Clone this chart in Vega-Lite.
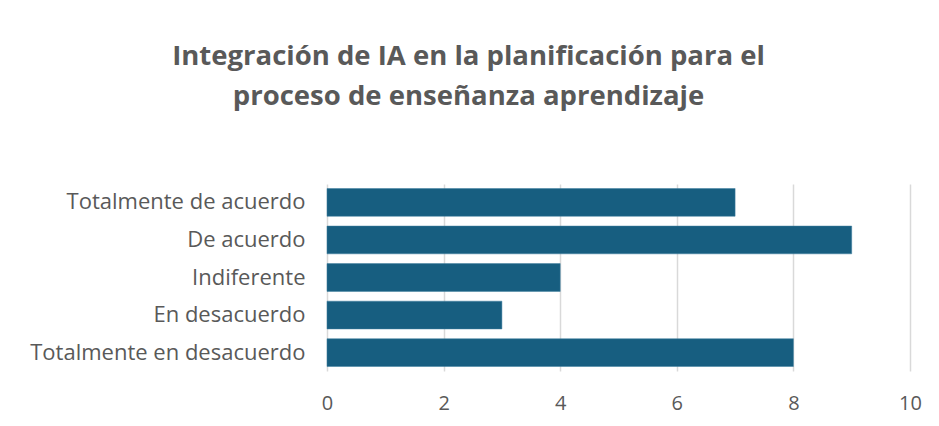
{
  "$schema": "https://vega.github.io/schema/vega-lite/v6.json",
  "autosize": "none",
  "width": 583,
  "height": 187,
  "padding": {"left": 327, "top": 184, "right": 29, "bottom": 55},
  "background": "white",
  "title": {
    "text": ["Integración de IA en la planificación para el", "proceso de enseñanza aprendizaje"],
    "font": "Open Sans",
    "fontSize": 27.5,
    "fontWeight": "bold",
    "color": "#595959",
    "lineHeight": 40,
    "anchor": "middle",
    "dx": -150,
    "offset": 74
  },
  "data": {
    "values": [
      {"respuesta": "Totalmente de acuerdo", "valor": 7},
      {"respuesta": "De acuerdo", "valor": 9},
      {"respuesta": "Indiferente", "valor": 4},
      {"respuesta": "En desacuerdo", "valor": 3},
      {"respuesta": "Totalmente en desacuerdo", "valor": 8}
    ]
  },
  "mark": {"type": "bar", "color": "#175E80", "stroke": "#3f7f9f", "strokeWidth": 0.5},
  "encoding": {
    "y": {
      "field": "respuesta",
      "type": "nominal",
      "sort": null,
      "scale": {"paddingInner": 0.26, "paddingOuter": 0.12},
      "axis": {
        "title": null,
        "domain": false,
        "ticks": false,
        "grid": false,
        "labelFont": "Open Sans",
        "labelFontSize": 22,
        "labelColor": "#595959",
        "labelPadding": 22,
        "labelLimit": 400
      }
    },
    "x": {
      "field": "valor",
      "type": "quantitative",
      "scale": {"domain": [0, 10]},
      "axis": {
        "title": null,
        "domain": false,
        "ticks": false,
        "values": [0, 2, 4, 6, 8, 10],
        "gridColor": "#d9d9d9",
        "gridWidth": 1.5,
        "labelFont": "Open Sans",
        "labelFontSize": 20,
        "labelColor": "#595959",
        "labelPadding": 22,
        "labelFlush": false
      }
    }
  },
  "config": {"view": {"stroke": null}}
}
